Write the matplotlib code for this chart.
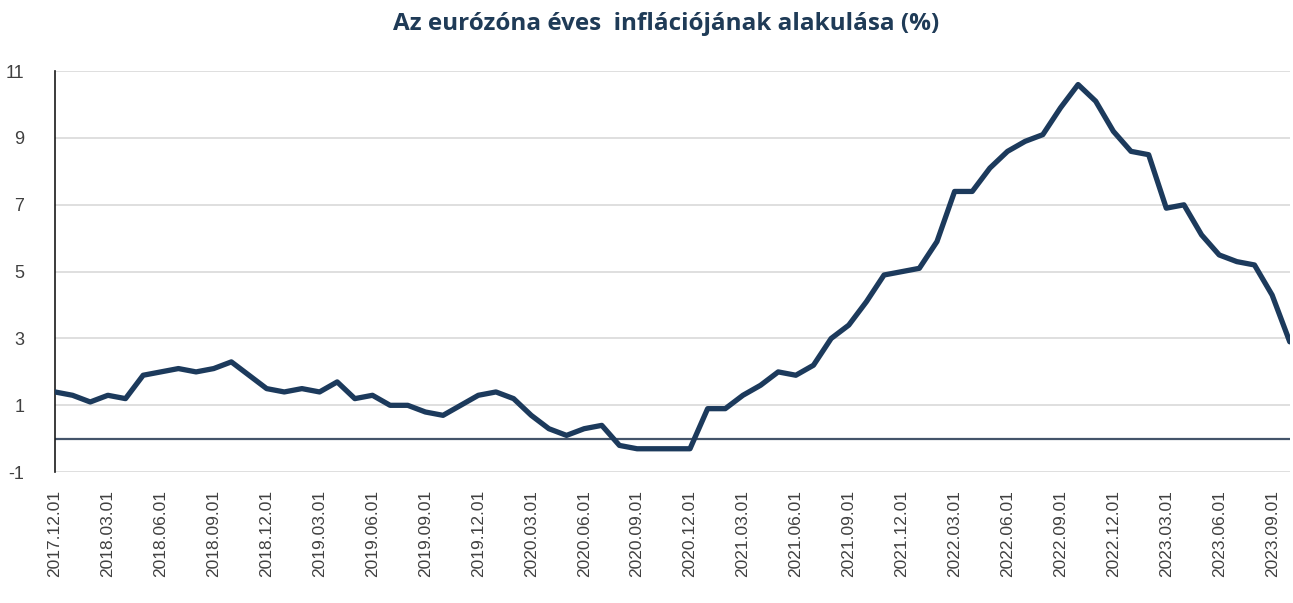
import matplotlib
matplotlib.use("Agg")
import matplotlib.pyplot as plt

# Eurozone HICP annual inflation, monthly, 2017.12 - 2023.10
months = []
for y in range(2017, 2024):
    for m in range(1, 13):
        if (y, m) >= (2017, 12) and (y, m) <= (2023, 10):
            months.append(f"{y}.{m:02d}.01")

inflation = [
    1.4,                                                        # 2017.12
    1.3, 1.1, 1.3, 1.2, 1.9, 2.0, 2.1, 2.0, 2.1, 2.3, 1.9, 1.5,  # 2018
    1.4, 1.5, 1.4, 1.7, 1.2, 1.3, 1.0, 1.0, 0.8, 0.7, 1.0, 1.3,  # 2019
    1.4, 1.2, 0.7, 0.3, 0.1, 0.3, 0.4, -0.2, -0.3, -0.3, -0.3, -0.3,  # 2020
    0.9, 0.9, 1.3, 1.6, 2.0, 1.9, 2.2, 3.0, 3.4, 4.1, 4.9, 5.0,  # 2021
    5.1, 5.9, 7.4, 7.4, 8.1, 8.6, 8.9, 9.1, 9.9, 10.6, 10.1, 9.2,  # 2022
    8.6, 8.5, 6.9, 7.0, 6.1, 5.5, 5.3, 5.2, 4.3, 2.9,            # 2023
]

y_ticks = [-1, 1, 3, 5, 7, 9, 11]

NAVY = "#1c3a5c"
TEXT = "#404040"

fig = plt.figure(figsize=(12.93, 6.03), dpi=100, facecolor="white")
ax = fig.add_axes([0.0425, 0.217, 0.955, 0.665])

x = list(range(len(months)))

# grid + zero line
for t in y_ticks:
    ax.axhline(t, color="#d9d9d9", linewidth=1.2, zorder=1)
ax.axhline(0, color="#44546a", linewidth=1.6, zorder=2)

ax.plot(x, inflation, color=NAVY, linewidth=3.8,
        solid_joinstyle="round", solid_capstyle="round", zorder=3)

ax.set_xlim(0, len(months) - 1)
ax.set_ylim(-1, 11)
ax.set_yticks(y_ticks)
ax.set_yticklabels([str(t) for t in y_ticks])

tick_idx = x[::3]
ax.set_xticks(tick_idx)
ax.set_xticklabels([months[i] for i in tick_idx], rotation=90)

ax.tick_params(axis="both", length=0, labelcolor=TEXT)
ax.tick_params(axis="y", pad=22, labelsize=13)
ax.tick_params(axis="x", pad=13, labelsize=12.5)
for lab in ax.get_xticklabels() + ax.get_yticklabels():
    lab.set_family("Liberation Sans")

for s in ["top", "right", "bottom"]:
    ax.spines[s].set_visible(False)
ax.spines["left"].set_color("#1a1a1a")
ax.spines["left"].set_linewidth(1.2)

fig.text(0.515, 0.96, "Az eurózóna éves  inflációjának alakulása (%)",
         ha="center", va="center", fontsize=17.5, fontweight="bold",
         color="#1f3b57", family="Open Sans")

fig.savefig("out.png", dpi=100, facecolor="white")
